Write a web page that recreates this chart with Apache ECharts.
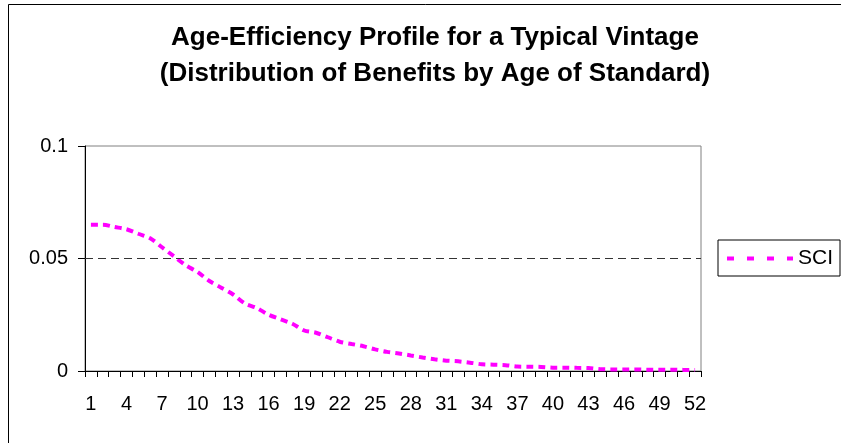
<!DOCTYPE html>
<html>
<head>
<meta charset="utf-8">
<script src="https://cdn.jsdelivr.net/npm/echarts@6/dist/echarts.min.js"></script>
<style>html,body{margin:0;padding:0;background:#fff}#c{width:841px;height:443px}</style>
</head>
<body>
<div id="c"></div>
<script>
const titleText = 'Age-Efficiency Profile for a Typical Vintage\n(Distribution of Benefits by Age of Standard)';
const ages = [];
for (let i = 1; i <= 52; i++) ages.push(String(i));
const seriesName = 'SCI';
const sciValues = [
  0.065, 0.065, 0.064, 0.063, 0.061, 0.059, 0.055, 0.051, 0.047, 0.044,
  0.040, 0.037, 0.034, 0.030, 0.028, 0.025, 0.023, 0.021, 0.018, 0.017,
  0.015, 0.013, 0.012, 0.011, 0.0096, 0.0085, 0.0078, 0.0069, 0.0060, 0.0052,
  0.0046, 0.0043, 0.0037, 0.0030, 0.0028, 0.0026, 0.0020, 0.0019, 0.0018, 0.0015,
  0.0015, 0.0014, 0.0013, 0.0008, 0.0007, 0.0007, 0.0007, 0.0006, 0.0006, 0.0006,
  0.0005, 0.0005
];
const yTicks = [0, 0.05, 0.1];
const refLine = 0.05;

const FONT = 'Arial, "Liberation Sans", sans-serif';
const chart = echarts.init(document.getElementById('c'), null, {renderer: 'canvas'});
chart.setOption({
  animation: false,
  backgroundColor: '#fff',
  title: {
    text: titleText,
    left: 430, top: 15, textAlign: 'center',
    textStyle: {fontFamily: FONT, fontWeight: 'bold', fontSize: 26, lineHeight: 36, color: '#000'}
  },
  graphic: [{
    type: 'rect', z: -1, silent: true,
    shape: {x: 8.5, y: 4.5, width: 900, height: 500},
    style: {fill: 'none', stroke: '#000', lineWidth: 1}
  }],
  legend: {
    left: 718, top: 240,
    padding: [8, 7, 7, 7],
    borderColor: '#000', borderWidth: 1,
    itemWidth: 66, itemHeight: 14,
    itemStyle: {opacity: 0},
    lineStyle: {width: 4, type: [7, 13], color: '#FF00FF'},
    textStyle: {fontFamily: FONT, fontSize: 21, color: '#000'},
    data: [seriesName]
  },
  grid: {left: 85, right: 140, top: 146, bottom: 72, show: true, borderColor: '#808080', borderWidth: 1},
  xAxis: {
    type: 'category', data: ages, boundaryGap: true,
    axisLine: {lineStyle: {color: '#000', width: 1}},
    axisTick: {show: true, interval: 0, length: 6, alignWithLabel: false, lineStyle: {color: '#000'}},
    axisLabel: {interval: 2, margin: 23, fontFamily: FONT, fontSize: 20, color: '#000'},
    splitLine: {show: false}
  },
  yAxis: {
    type: 'value', min: yTicks[0], max: yTicks[yTicks.length - 1], interval: 0.05,
    axisLine: {show: true, lineStyle: {color: '#000', width: 1}},
    axisTick: {show: true, length: 7, lineStyle: {color: '#000'}},
    axisLabel: {margin: 17, fontFamily: FONT, fontSize: 20, color: '#000', formatter: v => String(v)},
    splitLine: {show: false}
  },
  series: [{
    name: seriesName, type: 'line', data: sciValues,
    smooth: 0.3, symbol: 'none', showSymbol: false,
    lineStyle: {color: '#FF00FF', width: 4, type: [7, 5]},
    itemStyle: {color: '#FF00FF'},
    markLine: {
      silent: true, symbol: 'none', label: {show: false},
      lineStyle: {color: '#333', width: 1, type: [8, 5]},
      data: [{yAxis: refLine}]
    }
  }]
});
</script>
</body>
</html>
